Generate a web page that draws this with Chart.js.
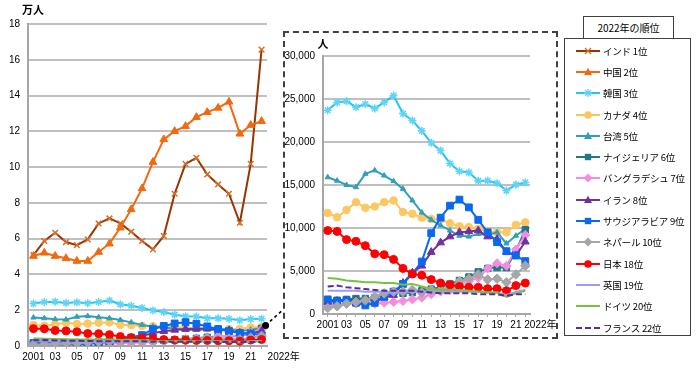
<!DOCTYPE html>
<html>
<head>
<meta charset="utf-8">
<script src="https://cdn.jsdelivr.net/npm/chart.js@4.4.1/dist/chart.umd.min.js"></script>
<style>
    body { margin: 0; width: 700px; height: 372px; position: relative; background: #fff; overflow: hidden;
           font-family: "Noto Sans CJK JP", sans-serif; }
    #main { position: absolute; left: 0; top: 0; }
    #insetBox { position: absolute; left: 283px; top: 31px; width: 271px; height: 304px;
                border: 2px dashed #404040; background: #fff; }
    #inset { position: absolute; left: 0; top: 0; }
    #legTitle { position: absolute; left: 583px; top: 16px; width: 89px; height: 21px; border: 1px solid #404040;
                background: #fff; font-size: 10px; line-height: 21px; text-align: center; z-index: 2; }
    #legend { position: absolute; left: 564px; top: 38px; width: 127px; height: 298px; border: 1px solid #404040;
              padding-top: 1px; box-sizing: border-box; }
    .row { display: flex; align-items: center; height: 21.3px; font-size: 9.5px; white-space: nowrap;
           letter-spacing: -0.2px; }
    .row svg { margin-left: 11px; margin-right: 3px; flex: none; }
</style>
</head>
<body>
<canvas id="main" width="700" height="372"></canvas>
<div id="insetBox"><canvas id="inset" width="271" height="304"></canvas></div>
<div id="legTitle">2022年の順位</div>
<div id="legend"></div>

<script>
// 留学生数（人）2001〜2022年
const years = ["2001", "2002", "2003", "2004", "2005", "2006", "2007", "2008", "2009", "2010", "2011",
    "2012", "2013", "2014", "2015", "2016", "2017", "2018", "2019", "2020", "2021", "2022"];
const xTickLabels = ["2001", "", "03", "", "05", "", "07", "", "09", "", "11", "",
    "13", "", "15", "", "17", "", "19", "", "21", ""];
const lastYearLabel = "2022年";

const india = [50800, 58700, 63300, 58100, 56400, 59600, 68500, 71300, 68500, 63900, 58700,
    54000, 61500, 85100, 101800, 105200, 95900, 90300, 85100, 68900, 101800, 165700];
const china = [50300, 52100, 50300, 49000, 47500, 47500, 52500, 57200, 66100, 76400, 88100,
    102800, 115500, 120100, 122900, 127900, 130700, 133100, 136500, 118600, 123500, 125700];
const korea = [23700, 24600, 24750, 24050, 24400, 23900, 24600, 25400, 23300, 22500, 21300,
    19900, 19000, 17500, 16600, 16450, 15500, 15500, 15200, 14350, 15050, 15300];
const canada = [11750, 11250, 12100, 13000, 12350, 12500, 13000, 13200, 11850, 11650, 11200,
    11050, 11000, 10550, 10200, 10100, 9900, 9600, 9500, 9500, 10350, 10650];
const taiwan = [15900, 15500, 15000, 14750, 16300, 16700, 16100, 15450, 14550, 13200, 11800,
    10950, 10300, 9700, 9100, 9000, 9300, 9200, 9500, 8200, 9100, 9900];
const nigeria = [1500, 1600, 1700, 1800, 1800, 1900, 2300, 2600, 2400, 2500, 2700,
    2900, 3100, 3500, 3900, 4300, 4900, 5300, 5400, 5400, 7300, 9800];
const bangladesh = [1000, 1200, 1200, 1200, 1200, 1200, 1300, 1400, 1500, 1700, 1900,
    2300, 2600, 2800, 3300, 3800, 4200, 5300, 5900, 5600, 7500, 9200];
const iran = [1400, 1500, 1500, 1600, 1600, 1700, 1900, 2200, 3600, 4800, 5600,
    7200, 8300, 9000, 9500, 9600, 9700, 9000, 8700, 7200, 6800, 8400];
const saudi = [1700, 1500, 1600, 1300, 1000, 1300, 2000, 2600, 3500, 4700, 6100,
    9400, 11200, 12600, 13300, 12400, 10950, 9500, 8350, 7300, 6800, 6150];
const nepal = [700, 900, 1200, 1400, 1600, 2000, 2400, 2600, 2600, 2800, 2500,
    2800, 2800, 3100, 3800, 4100, 4600, 4000, 4100, 3700, 4600, 5600];
const japan = [9700, 9600, 8650, 8450, 7950, 7000, 6900, 6350, 5300, 4650, 4500,
    4000, 3600, 3400, 3200, 3100, 3100, 2950, 2950, 2700, 3300, 3600];
const uk = [2700, 2700, 2700, 2700, 2600, 2600, 2600, 2500, 2600, 2600, 2500,
    2500, 2500, 2600, 2600, 2600, 2600, 2500, 2500, 2200, 2600, 2800];
const germany = [4200, 4100, 3900, 3800, 3700, 3700, 3600, 3600, 3400, 3500, 3200,
    2900, 2800, 2800, 2800, 2700, 2600, 2500, 2500, 2000, 2400, 2700];
const france = [3200, 3300, 3100, 3000, 2900, 2800, 2700, 2700, 2700, 2700, 2600,
    2500, 2400, 2400, 2400, 2400, 2300, 2300, 2300, 2100, 2300, 2300];

const series = [
    { name: "インド", rank: "1位", data: india, color: "#993300", fill: "#d0702a", style: "crossRot", r: 4, inset: false },
    { name: "中国", rank: "2位", data: china, color: "#f06a10", fill: "#f06a10", style: "triangle", r: 4.5, inset: false },
    { name: "韓国", rank: "3位", data: korea, color: "#22c4f4", fill: "#5fd4f7", style: "star", r: 4, inset: true },
    { name: "カナダ", rank: "4位", data: canada, color: "#fbc35a", fill: "#fdc862", style: "circle", r: 3.8, inset: true },
    { name: "台湾", rank: "5位", data: taiwan, color: "#2fa0b8", fill: "#2fa0b8", style: "triangle", r: 3, inset: true },
    { name: "ナイジェリア", rank: "6位", data: nigeria, color: "#1f7787", fill: "#1f7787", style: "rect", r: 4.5, inset: true },
    { name: "バングラデシュ", rank: "7位", data: bangladesh, color: "#f48ce0", fill: "#f48ce0", style: "rectRot", r: 4.5, inset: true },
    { name: "イラン", rank: "8位", data: iran, color: "#7030a0", fill: "#7030a0", style: "triangle", r: 4.5, inset: true },
    { name: "サウジアラビア", rank: "9位", data: saudi, color: "#0a68f0", fill: "#0a68f0", style: "rect", r: 4.8, inset: true },
    { name: "ネパール", rank: "10位", data: nepal, color: "#a6a6a6", fill: "#a6a6a6", style: "rectRot", r: 4.8, inset: true },
    { name: "日本", rank: "18位", data: japan, color: "#ff0000", fill: "#ff0000", style: "circle", r: 4, inset: true },
    { name: "英国", rank: "19位", data: uk, color: "#9c9cff", fill: "#9c9cff", style: null, r: 0, inset: true },
    { name: "ドイツ", rank: "20位", data: germany, color: "#78c042", fill: "#78c042", style: null, r: 0, inset: true },
    { name: "フランス", rank: "22位", data: france, color: "#5b2a9c", fill: "#5b2a9c", style: null, r: 0, dash: [6, 3], inset: true }
];

const tickFont = { family: "'Liberation Sans', Arial, sans-serif", size: 10 };
const gridColor = "#c0c0c0";

function makeDatasets(list, divisor) {
    return list.map((s, i) => ({
        label: s.name,
        data: s.data.map(v => v / divisor),
        borderColor: s.color,
        backgroundColor: s.fill,
        borderWidth: 2,
        borderDash: s.dash || [],
        pointStyle: s.style || false,
        pointRadius: s.style ? s.r : 0,
        pointBackgroundColor: s.fill,
        pointBorderColor: s.fill,
        pointBorderWidth: (s.style === "crossRot" || s.style === "star") ? 1.5 : 1,
        tension: 0,
        order: list.length - i
    }));
}

// axis unit text and the separate "2022年" label
const extraText = {
    id: "extraText",
    afterDraw(chart, args, opts) {
        const ctx = chart.ctx;
        const x = chart.scales.x;
        ctx.save();
        ctx.fillStyle = "#000";
        ctx.font = "bold 11px 'Noto Sans CJK JP', sans-serif";
        ctx.textAlign = "center";
        ctx.textBaseline = "middle";
        ctx.fillText(opts.unit, opts.unitX, opts.unitY);
        ctx.font = "10px 'Liberation Sans', 'Noto Sans CJK JP', sans-serif";
        ctx.textAlign = "left";
        ctx.fillText(lastYearLabel, x.getPixelForValue(years.length - 1) + opts.lastOffset, x.top + 11);
        if (opts.marker) {
            const px = x.getPixelForValue(years.length - 1) + 4;
            const py = chart.scales.y.getPixelForValue(opts.marker);
            ctx.strokeStyle = "#000";
            ctx.lineWidth = 1.5;
            ctx.setLineDash([3, 3]);
            ctx.beginPath();
            ctx.moveTo(px, py);
            ctx.lineTo(px + 19, py - 17);
            ctx.stroke();
            ctx.setLineDash([]);
            ctx.beginPath();
            ctx.arc(px, py, 3.5, 0, Math.PI * 2);
            ctx.fill();
        }
        ctx.restore();
    }
};

function makeOptions(yMax, yStep, yWidth, xHeight, padding, yFormat, textOpts) {
    return {
        responsive: false,
        animation: false,
        layout: { padding: padding },
        plugins: { legend: { display: false }, tooltip: { enabled: false }, extraText: textOpts },
        scales: {
            x: {
                offset: true,
                grid: { display: true, drawOnChartArea: false, drawTicks: true, tickLength: 3, color: "#a6a6a6" },
                border: { display: true, color: "#a6a6a6", width: 2 },
                ticks: {
                    autoSkip: false, maxRotation: 0, padding: 2, color: "#000", font: tickFont,
                    callback: (v, i) => xTickLabels[i]
                },
                afterFit: s => { s.height = xHeight; }
            },
            y: {
                min: 0, max: yMax,
                grid: { color: gridColor, lineWidth: 2, drawTicks: false },
                border: { display: true, color: "#a6a6a6", width: 2 },
                ticks: { stepSize: yStep, padding: 8, color: "#000", font: tickFont, callback: yFormat },
                afterFit: s => { s.width = yWidth; }
            }
        }
    };
}

new Chart(document.getElementById("main"), {
    type: "line",
    data: { labels: years, datasets: makeDatasets(series, 10000) },
    options: makeOptions(18, 2, 28, 26, { top: 24, right: 433, left: 0, bottom: 0 }, v => v,
        { unit: "万人", unitX: 33, unitY: 10, lastOffset: 6, marker: 1.15 }),
    plugins: [extraText]
});

const insetSeries = series.filter(s => s.inset);
new Chart(document.getElementById("inset"), {
    type: "line",
    data: { labels: years, datasets: makeDatasets(insetSeries, 1) },
    options: makeOptions(30000, 5000, 38, 23, { top: 23, right: 26, left: 0, bottom: 0 },
        v => v.toLocaleString("en-US"),
        { unit: "人", unitX: 38, unitY: 11, lastOffset: -1, marker: null }),
    plugins: [extraText]
});

// legend with line + marker icons
function markerSvg(s) {
    const c = s.fill;
    switch (s.style) {
        case "circle": return `<circle cx="12" cy="6" r="3.8" fill="${c}"/>`;
        case "triangle": return `<polygon points="12,1.8 16,9 8,9" fill="${c}"/>`;
        case "rect": return `<rect x="8.8" y="2.8" width="6.4" height="6.4" fill="${c}"/>`;
        case "rectRot": return `<polygon points="12,1.5 16.5,6 12,10.5 7.5,6" fill="${c}"/>`;
        case "crossRot": return `<path d="M9 3L15 9M15 3L9 9" stroke="${c}" stroke-width="1.4"/>`;
        case "star": return `<path d="M9 3L15 9M15 3L9 9M12 2V10M8 6H16" stroke="${c}" stroke-width="1.3"/>`;
        default: return "";
    }
}

const legend = document.getElementById("legend");
series.forEach(s => {
    const row = document.createElement("div");
    row.className = "row";
    const dash = s.dash ? `stroke-dasharray="${s.dash.join(",")}"` : "";
    row.innerHTML = `
        <svg width="24" height="12" viewBox="0 0 24 12">
            <line x1="0" y1="6" x2="24" y2="6" stroke="${s.color}" stroke-width="2" ${dash}/>
            ${markerSvg(s)}
        </svg>
        <span>${s.name} ${s.rank}</span>
    `;
    legend.appendChild(row);
});
</script>
</body>
</html>
